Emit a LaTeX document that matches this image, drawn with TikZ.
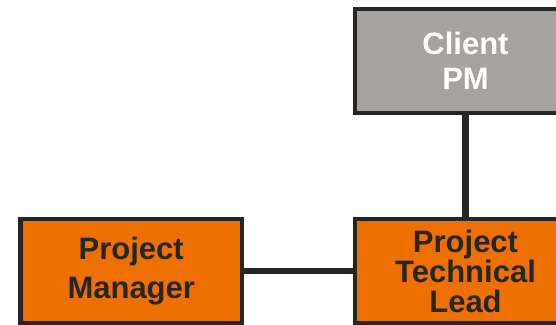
\documentclass[tikz,border=0pt]{standalone}
\usepackage{fontspec}
\setmainfont{Liberation Sans}
\definecolor{edge}{HTML}{262626}
\definecolor{boxorange}{HTML}{EE7000}
\definecolor{boxgray}{HTML}{A5A2A0}
\tikzset{
  x=1pt, y=1pt,
  rolebox/.style={draw=edge, line width=4.5pt, minimum width=221.5pt, minimum height=104pt,
    inner sep=0pt, align=center},
  orangebox/.style={rolebox, fill=boxorange, text=edge},
  graybox/.style={rolebox, fill=boxgray, text=white},
  link/.style={draw=edge, line width=6.5pt}
}
\begin{document}
\begin{tikzpicture}
\useasboundingbox (0,0) rectangle (556,324);
\clip (0,0) rectangle (556,324);
% role boxes
\node[graybox, font=\bfseries\fontsize{31}{35}\selectfont] (client) at (465.5,263) {Client\\PM};
\node[orangebox, font=\bfseries\fontsize{31}{39}\selectfont] (pm) at (131.25,53) {Project\\Manager};
\node[orangebox, font=\bfseries\fontsize{31}{30}\selectfont] (ptl) at (465.5,53) {Project\\Technical\\Lead};
% reporting lines
\draw[link] (client.south) -- (ptl.north);
\draw[link] (pm.east) -- (ptl.west);
\end{tikzpicture}
\end{document}
